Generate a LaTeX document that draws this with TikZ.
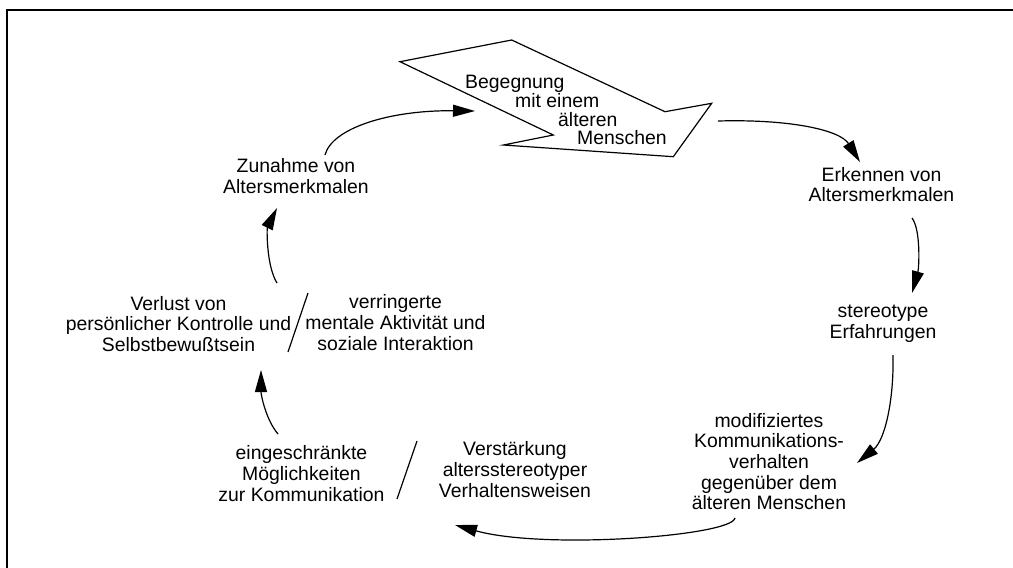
\documentclass[tikz,border=0pt]{standalone}
\usepackage{fontspec}
\setmainfont{Liberation Sans}
\usetikzlibrary{arrows.meta}
\begin{document}
\begin{tikzpicture}[x=1pt,y=-1pt,
  lbl/.style={align=center,inner sep=0pt,font=\fontsize{19.4}{20.6}\selectfont},
  arr/.style={line width=1.2pt,-{Triangle[length=22pt,width=12pt]}},
  slash/.style={line width=1.2pt}]
\useasboundingbox (0,0) rectangle (1013,568);
\fill[white] (0,0) rectangle (1013,568);
\draw[line width=2pt] (7,600) -- (7,10) -- (1050,10);
% big arrow shape
\draw[line width=1.2pt,line join=miter] (400,61.7) -- (511.7,40) -- (665,111.7) -- (711.7,103.3) -- (673.3,156.7) -- (503.3,145) -- (553.3,135) -- cycle;
\node[lbl,anchor=base west] (b1) at (465,88.3) {Begegnung};
\node[lbl,anchor=base west] (b2) at (515,107.5) {mit einem};
\node[lbl,anchor=base west] (b3) at (558,126) {älteren};
\node[lbl,anchor=base west] (b4) at (577,144.3) {Menschen};
% text nodes
\node[lbl] (erk) at (881.5,184.5) {Erkennen von\\Altersmerkmalen};
\node[lbl] (ste) at (883,324) {stereotype\\Erfahrungen};
\node[lbl] (mod) at (769,461.5) {modifiziertes\\Kommunikations-\\verhalten\\gegenüber dem\\älteren Menschen};
\node[lbl] (ver) at (515,469.5) {Verstärkung\\altersstereotyper\\Verhaltensweisen};
\node[lbl] (ein) at (301.5,473.5) {eingeschränkte\\Möglichkeiten\\zur Kommunikation};
\node[lbl] (vlu) at (178.5,324) {Verlust von\\persönlicher Kontrolle und\\Selbstbewußtsein};
\node[lbl] (vrr) at (395.5,322.5) {verringerte\\mentale Aktivität und\\soziale Interaktion};
\node[lbl] (zun) at (296,176) {Zunahme von\\Altersmerkmalen};
% slashes
\coordinate (s1a) at (308,293); \coordinate (s1b) at (288,352);
\coordinate (s2a) at (417,441); \coordinate (s2b) at (397,499);
\draw[slash] (s1a) -- (s1b);
\draw[slash] (s2a) -- (s2b);
% connector end points
\coordinate (c1s) at (325,155); \coordinate (c1e) at (475,111);
\coordinate (c2s) at (718,121); \coordinate (c2e) at (860,162);
\coordinate (c3s) at (912,218); \coordinate (c3e) at (912,293);
\coordinate (c4s) at (893,355); \coordinate (c4e) at (857,463);
\coordinate (c5s) at (735,518); \coordinate (c5e) at (455,525);
\coordinate (c6s) at (278,434); \coordinate (c6e) at (261,370);
\coordinate (c7s) at (277,283); \coordinate (c7e) at (277,208);
\draw[arr] (c1s) .. controls (332,128) and (390,110) .. (c1e);
\draw[arr] (c2s) .. controls (790,119) and (840,130) .. (c2e);
\draw[arr] (c3s) .. controls (921,230) and (919,268) .. (c3e);
\draw[arr] (c4s) .. controls (894,400) and (885,440) .. (c4e);
\draw[arr] (c5s) .. controls (732,536) and (545,550) .. (c5e);
\draw[arr] (c6s) .. controls (266,420) and (261,395) .. (c6e);
\draw[arr] (c7s) .. controls (266,265) and (267,228) .. (c7e);
\end{tikzpicture}
\end{document}
